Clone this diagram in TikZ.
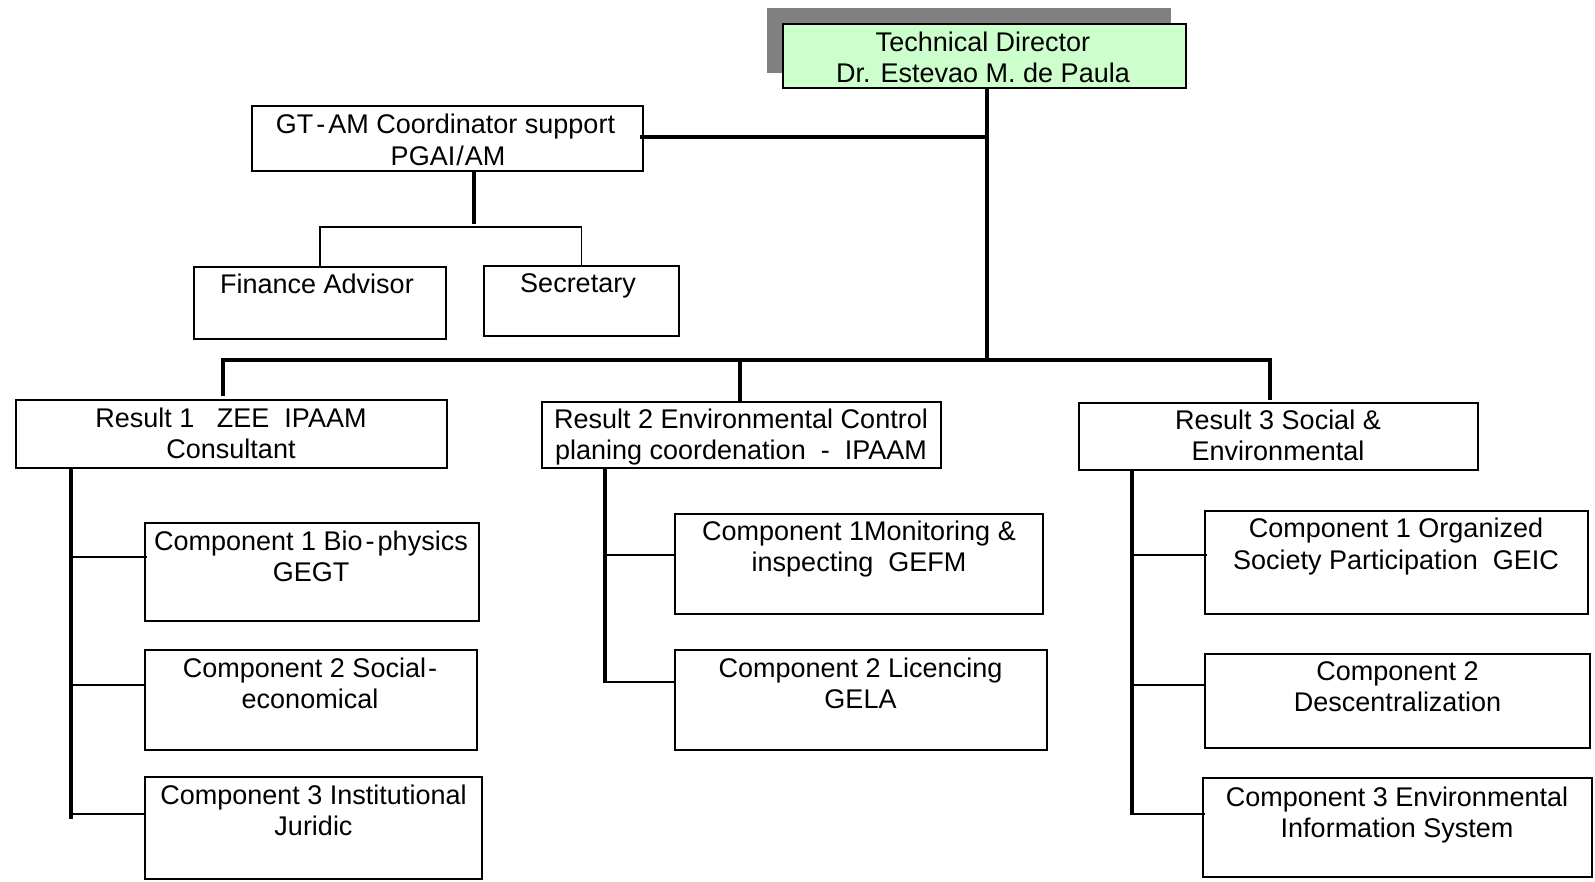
\documentclass[tikz,border=0pt]{standalone}
\usepackage{fontspec}
\setmainfont{Liberation Sans}
\definecolor{shadowgray}{RGB}{128,128,128}
\definecolor{paleGreen}{RGB}{204,255,204}
\begin{document}
\begin{tikzpicture}[x=1pt,y=-1pt,
  box/.style={draw=black, line width=1.8pt, rectangle, inner sep=0pt, fill=white},
  txt/.style={anchor=base, align=center, inner sep=0pt, font={\fontsize{27}{31.5}\selectfont}},
  two/.style={yshift=-31.5pt},
  thickln/.style={line width=4pt},
  thinln/.style={line width=1.6pt},
]
\useasboundingbox (0,0) rectangle (1595,882);

% boxes
\node[fill=shadowgray, inner sep=0pt, minimum width=404pt, minimum height=65pt] (shadow) at (969,40.5) {};
\node[box, fill=paleGreen, minimum width=403pt, minimum height=64pt] (td) at (984.5,56) {};
\node[box, minimum width=391pt, minimum height=65pt] (gt) at (447.5,138.5) {};
\node[box, minimum width=252pt, minimum height=72pt] (fa) at (320,303) {};
\node[box, minimum width=195pt, minimum height=70pt] (se) at (581.5,301) {};
\node[box, minimum width=431pt, minimum height=68pt] (r1) at (231.5,434) {};
\node[box, minimum width=399pt, minimum height=66pt] (r2) at (741.5,435) {};
\node[box, minimum width=399pt, minimum height=67pt] (r3) at (1278.5,436.5) {};
\node[box, minimum width=334pt, minimum height=98pt] (c11) at (312,572) {};
\node[box, minimum width=332pt, minimum height=100pt] (c12) at (311,700) {};
\node[box, minimum width=337pt, minimum height=102pt] (c13) at (313.5,828) {};
\node[box, minimum width=368pt, minimum height=100pt] (c21) at (859,564) {};
\node[box, minimum width=372pt, minimum height=100pt] (c22) at (861,700) {};
\node[box, minimum width=383pt, minimum height=103pt] (c31) at (1396.5,562.5) {};
\node[box, minimum width=385pt, minimum height=94pt] (c32) at (1397.5,701) {};
\node[box, minimum width=389pt, minimum height=99pt] (c33) at (1397.5,827.5) {};

% junction coordinates
\coordinate (j0) at (987,137);
\coordinate (busC) at (987,360);
\coordinate (busL) at (223,360);
\coordinate (busM) at (740,360);
\coordinate (busR) at (1270,360);
\coordinate (gtd) at (474,224);
\coordinate (brk) at (450,227);
\coordinate (v1) at (71,819);
\coordinate (v2) at (605,683);
\coordinate (v3) at (1132,815);

% thick connectors
\draw[thickln, line width=4.6pt] (td.south -| j0) -- (busC);
\draw[thickln, line width=3.6pt] ([xshift=-4pt]gt.east |- j0) -- (j0);
\draw[thickln] (gtd |- gt.south) -- (gtd);
\draw[thickln] ([xshift=-2pt]busL) -- ([xshift=2pt]busR);
\draw[thickln] (busL) -- ([yshift=3pt]busL |- r1.north);
\draw[thickln] (busM) -- (busM |- r2.north);
\draw[thickln] (busR) -- ([yshift=2pt]busR |- r3.north);
\draw[thickln] (v1 |- r1.south) -- (v1);
\draw[thickln] (v2 |- r2.south) -- (v2);
\draw[thickln] (v3 |- r3.south) -- (v3);

% thin connectors
\draw[thinln] (fa.north) -- (fa.north |- brk) -- (se.north |- brk) -- (se.north);
\draw[thinln] (v1 |- 0,557) -- ([xshift=3pt]c11.west |- 0,557);
\draw[thinln] (v1 |- 0,685) -- (c12.west |- 0,685);
\draw[thinln] (v1 |- 0,814) -- (c13.west |- 0,814);
\draw[thinln] (v2 |- 0,555) -- (c21.west |- 0,555);
\draw[thinln] (v2 |- 0,682) -- (c22.west |- 0,682);
\draw[thinln] (v3 |- 0,555) -- ([xshift=3pt]c31.west |- 0,555);
\draw[thinln] (v3 |- 0,685) -- (c32.west |- 0,685);
\draw[thinln] (v3 |- 0,814) -- ([xshift=3pt]c33.west |- 0,814);

% texts (anchor base = last line)
\node[txt, two] (tdt) at (983,51.5) {Technical Director\\Dr. Estevao M. de Paula};
\node[txt, two] (gtt) at (448,134) {GT\kern3pt-\kern3pt AM Coordinator support\rule{5pt}{0pt}\\PGAI\kern1pt/\kern1pt AM};
\node[txt] (fat) at (317,294) {Finance Advisor};
\node[txt] (set) at (578,293) {Secretary};
\node[txt, two] (r1t) at (231,427) {Result 1\ \ \ ZEE\ \ IPAAM\\Consultant};
\node[txt, two] (r2t) at (741,428) {Result 2 Environmental Control\\planing coordenation\ \ -\ \ IPAAM};
\node[txt, two] (r3t) at (1278,429) {Result 3 Social \&\\Environmental};
\node[txt, two] (c11t) at (311,550) {Component 1 Bio\kern3pt-\kern3pt physics\\GEGT};
\node[txt, two] (c12t) at (310,677) {Component 2 Social\kern2pt-\\economical};
\node[txt, two] (c13t) at (313.5,804) {Component 3 Institutional\\Juridic};
\node[txt, two] (c21t) at (859,540) {Component 1Monitoring \&\\inspecting\ \ GEFM};
\node[txt, two] (c22t) at (860.5,677) {Component 2 Licencing\\GELA};
\node[txt, two] (c31t) at (1396,537.5) {Component 1 Organized\\Society Participation\ \ GEIC};
\node[txt, two] (c32t) at (1397.5,680) {Component 2\\Descentralization};
\node[txt, two] (c33t) at (1397,806) {Component 3 Environmental\\Information System};
\end{tikzpicture}
\end{document}
